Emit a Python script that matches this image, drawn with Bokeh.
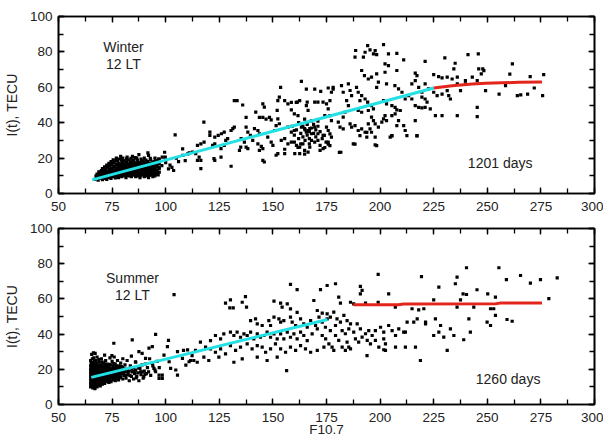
from bokeh.plotting import figure
from bokeh.models import Range1d, SingleIntervalTicker, LinearAxis, Label
from bokeh.layouts import column
from bokeh.embed import file_html
from bokeh.resources import INLINE

FONT = "Liberation Sans"

# ---------------- data: (F10.7, I(t) TECU) ----------------
winter_cluster = [
    (67,8),(67.5,10),(68,9),(68,11),(68.5,7.5),(69,8.5),(69,10.5),(69.5,12),(70,9),(70,11),(70,13),(70.5,7.8),(70.5,14),
    (71,10),(71,12),(71.5,8.5),(71.5,15),(72,9.5),(72,11.5),(72,13.5),(72.5,8),(72.5,16),(73,10.5),(73,12.5),(73,14.5),
    (73.5,9),(73.5,17),(74,11),(74,13),(74,15.5),(74.5,8.5),(74.5,18),(75,10),(75,12),(75,14),(75,16.5),(75.5,9.5),(75.5,19),
    (76,11),(76,13),(76,15),(76,17.5),(76.5,8.8),(77,10),(77,12),(77,14),(77,16),(77,20),(77.5,18.5),(78,9),(78,11.5),
    (78,13.5),(78,15.5),(78,17),(78.5,10.5),(78.5,19.5),(79,12),(79,14),(79,16.5),(79,21),(79.5,9.5),(79.5,18),(80,11),
    (80,13),(80,15),(80,17.5),(80,20),(81,10),(81,12),(81,14),(81,16),(81,18.5),(81.5,9),(82,11),(82,13),(82,15),(82,17),
    (82,20.5),(82.5,19),(83,10),(83,12),(83,14.5),(83,16.5),(83.5,18),(84,9.5),(84,11.5),(84,13.5),(84,15.5),(84,17.5),
    (84.5,21),(85,10.5),(85,12.5),(85,14),(85,16),(85,19),(86,9.5),(86,11.5),(86,13.5),(86,15),(86,17),(86.5,20),(87,10),
    (87,12),(87,14),(87,16),(87,18),(87.5,22),(88,9),(88,11),(88,13),(88,15),(88,17.5),(88.5,19.5),(89,10.5),(89,12.5),
    (89,14.5),(89,16.5),(89.5,18.5),(90,9.5),(90,11.5),(90,13.5),(90,15.5),(90,20),(90.5,17),(91,10),(91,12),(91,14),
    (91,16),(91.5,18),(92,9),(92,11),(92,13),(92,15),(92,21.5),(92.5,17),(93,10.5),(93,12.5),(93,14),(93,19),(93.5,16),
    (94,9.5),(94,11.5),(94,13.5),(94,15.5),(94.5,18),(95,10),(95,12),(95,14),(95,16.5),(95,20),(95.5,11),(96,13),(96,15),
    (96,18.5),(96.5,10.5),(97,12),(97,14),(97,17),(97,19.5),(91.7,22.9),
]
winter_cluster_b = [
    (67.8,8.8),(68.3,10.2),(68.8,12.3),(69.3,9.7),(69.8,11.2),(70.3,10.1),(70.8,12.4),(71.3,11.1),(71.8,13.2),(72.3,10.4),
    (72.8,12.1),(72.8,14.8),(73.3,11.6),(73.8,13.7),(73.8,16),(74.3,10.2),(74.3,12.2),(74.8,14.4),(74.8,16.8),(75.3,11.1),
    (75.3,13.1),(75.8,15.2),(75.8,17.6),(76.3,10.1),(76.3,12.1),(76.8,14.1),(76.8,16.4),(76.8,18.9),(77.3,11.1),(77.3,13.2),
    (77.8,15.1),(77.8,17.2),(78.3,10.1),(78.3,12.4),(78.8,14.6),(78.8,16.2),(79.3,11.1),(79.3,13.2),(79.3,19.2),(79.8,15.7),
    (79.8,10.3),(80.3,12.1),(80.3,14.2),(80.3,16.3),(80.8,18.3),(81.3,11.2),(81.3,13.1),(81.3,15.2),(81.8,17.4),(81.8,19.6),
    (82.3,10.2),(82.3,12.1),(82.3,14.3),(82.8,16.2),(83.3,11.2),(83.3,13.3),(83.3,15.5),(83.8,17.2),(83.8,19.8),(84.3,10.4),
    (84.3,12.6),(84.8,14.5),(84.8,16.6),(85.3,11.4),(85.3,13.2),(85.3,17.8),(85.8,15.3),(85.8,20.3),(86.3,10.3),(86.3,12.6),
    (86.8,14.4),(86.8,16.3),(86.8,18.8),(87.3,11.2),(87.3,13.1),(87.8,15.2),(87.8,17),(88.3,10.1),(88.3,12.2),(88.3,14.1),
    (88.8,16.2),(88.8,18.3),(89.3,11.4),(89.3,13.6),(89.8,15.4),(89.8,17.4),(90.3,10.4),(90.3,12.6),(90.3,14.4),(90.8,16.3),
    (90.8,18.8),(91.3,11.2),(91.3,13.2),(91.8,15.1),(91.8,17),(92.3,10.2),(92.3,12.1),(92.3,14.1),(92.8,16),(92.8,19.8),
    (93.3,11.3),(93.3,13.2),(93.8,15),(93.8,17.3),(94.3,10.4),(94.3,12.6),(94.8,14.6),(94.8,16.4),(95.3,13.1),(95.3,18.5),
    (95.8,15.2),(96.3,12),(96.3,16.8),(96.8,14.9),
]
winter_mid = [
    (96.7,19.5),(98.2,15.8),(98.4,20.5),(99.5,23.3),(99.8,20.5),(101.3,13.9),(102.9,14.8),(103.7,13),(102,16),(104.4,33.1),
    (106,18),(107.9,25.2),(108,21.5),(109.1,18.6),(110.3,22.4),(111,23),(100,17.5),(105,20),
    (117.8,40.3),(132,52.5),(133.3,52.5),(163.3,63.4),(153.6,60),(165.6,59),(169.5,59),(153,54.4),(152.3,52.5),
    (161.4,51.6),(166,51.6),(169.5,51.6),(171,51.6),(173.4,51.6),(135.9,50),(145.3,50.6),(146,48.75),(142,46),(152,47),
    (158.6,47.3),(165.6,49.7),(166.4,47),(137.5,43),(143.7,43),(145.3,43),(146.8,42),(148.4,43),(149.2,41.6),(152.3,42.2),
    (153,39.4),(160,45),(161.7,44),(164.8,42),(168,41),(171,40.9),(130.5,35.6),(131.3,36.6),(132,37.5),(137.5,37.5),
    (138.3,34.7),(139.5,32.8),(141.4,36.6),(143,35.6),(143.7,33.75),(150.8,35.6),(151.5,38.4),(157,37.5),(158.6,34.7),
    (160,35.6),(163.3,37.5),(164.8,36.6),(165.6,34.7),(166.4,35.6),(167.2,36.6),(168,33.75),(169.5,37.5),(171,33.75),
    (173.4,32.8),(120.6,34.7),(120.6,32.8),(122.9,31.9),(124.5,32.8),(126,33.75),(127.3,34.7),(128,30),(128.9,31),
    (121.9,27.2),(122.9,28),(114.8,27.2),(116.4,28),(117.9,29),(135.2,31),(136.7,29),(137.5,26.25),(140.6,30),(143,28),
    (144.6,26.6),(147.6,31.9),(149.2,29),(150,27.2),(153.9,30),(155.5,31),(157,28),(158.6,29),(161,27.2),(162.5,26.25),
    (164,28),(167.2,26.25),(169.5,29),(172,27.2),(174,32.8),(174.8,29),(135,26.25),(134.4,24.4),(112.5,23.4),(114,22.5),
    (115.6,20.6),(114.8,18.75),(116.4,18.75),(122.5,19.7),(122.9,18.75),(116.4,14),(125.8,20.6),(130.5,15.4),(138.3,25.3),
    (143.7,24.4),(145.3,25.3),(151.5,21.6),(152.3,22.5),(145.3,18.75),(146,17.8),(155.5,22.5),(160.2,22.5),(162.5,22.5),
    (164.8,24.4),(166.4,23.4),(172,24.4),(173.4,25.3),(127.3,27.2),(125.8,25.3),
    (159,38),(160,33),(161,36),(162,31),(162,40),(163,34),(164,32),(164,38),(165,30),(165,36),(166,33),(166,39),(167,31),
    (167,35),(168,37),(168,30),(169,34),(169,39),(170,32),(170,36),(171,30),(171,38),(172,35),(173,31),(160,29),(163,28),
    (167,28),(155.5,52.5),(157,50.6),(158.6,51.5),(160.9,51.5),(162.5,52.5),(175,50.6),(172.3,57.7),(175.8,59.6),(178.1,59),
    (155.5,25),(161.7,26),(164.8,22.3),(175.8,27.9),(174.2,26),(181,23.2),(188.3,27.9),(197.7,27.5),(205.5,32.6),
    (217.2,32.6),(193.8,34.5),
]
winter_high = [
    (194.2,83.6),(195.3,81.1),(196.9,78.9),(198.4,78.5),(197.7,80.7),(201.6,84.1),(193,79.8),(192.2,77),(188.6,80.8),
    (188.3,77),(203.9,78.9),(207.8,79.2),(202.3,73.2),(203.9,72.3),(211,75.5),(207.8,69.5),(221,74.7),(216.4,68),
    (217.2,66.6),(191.4,69.5),(192.7,66.6),(194.5,64.7),(196,65.7),(198.4,67.6),(199.2,62.9),(198.4,60),(202.3,68.5),
    (203,61.9),(206.9,61),(208.6,59.1),(210.2,57.2),(178.1,60),(177.3,57.2),(176.6,52.5),(182,61),(182.8,57.2),(185.2,61.9),
    (186,58.2),(186.7,55.3),(189,60),(189.8,57.2),(190.6,52.5),(191.4,55.3),(193,53.4),(194.2,51.6),(184.4,52.5),
    (185.2,49.7),(196,49.7),(196.9,47.8),(201.6,52.5),(203,50.6),(205.5,49.7),(207,48.7),(207.8,47.2),(211.7,53.4),
    (213.3,55.3),(214.8,61.9),(216.4,63.8),(218,60),(219.5,57.2),(221,61.9),(222.6,59.1),(219.5,54.4),(221,53.4),
    (221.9,51.6),(216.4,49.7),(218,48.7),(219.5,48.4),(221,48.7),(223.4,47.8),(214.8,53.4),(175.8,47.8),(176.6,44),
    (177.3,41.2),(175,37.5),(175.8,35.6),(176.6,33.7),(177.3,31.8),(180.5,40.3),(181.3,37.5),(182.8,36.5),(175.8,29),
    (176.6,27.1),(181.7,23.3),(186,39.3),(186.7,37.5),(188.3,38.4),(189.8,35.6),(190.6,32.7),(191.4,36.5),(187.5,28),
    (194.5,46.9),(196,43.1),(196.9,41.2),(194.5,39.3),(195.3,36.5),(196,34.6),(197.7,39.3),(199.2,37.5),(200.8,40.3),
    (197.7,31.8),(198.4,27.1),(201.6,42.2),(202.3,44),(203,41.2),(204.7,31.8),(205.5,32.7),(193,34.6),(193.8,31.8),
    (205.5,44),(207,45),(209.4,46.9),(207.8,38.4),(208.6,41.2),(211,38.4),(211.7,35.6),(212.5,32.7),(216.4,41.2),
    (217.2,32.7),(189.8,46.9),(191.4,45.9),(182.8,43.1),(183.6,45.9),(174.2,44),
    (230.2,76.6),(235,73.6),(241,78.5),(245.8,78.9),(225,67.2),(227.3,66),(228.9,65.3),(231.3,65.7),(233.6,64.7),
    (236,65.7),(225,57.2),(226.6,55.3),(228.9,56.2),(231.3,58.1),(232,55.3),(232.8,53.4),(225.8,44),(228.9,44),(236,44),
    (237.5,58.1),(239.8,63.8),(243,65.7),(245.3,63.8),(248.4,69.4),(245.3,48.7),(245.3,43.4),(249.2,58.1),(255.5,56.2),
    (261.7,73.2),(260.5,67.5),(264,55.3),(265.6,55.7),(268.8,56.2),(270,66),(276.3,67.2),(271.9,59.6),(275.8,55.3),
    (234.4,70.4),(236,61.9),(246,70.4),(247.9,70.4),(247.2,67.6),(239.8,61.9),(258.5,61),
]
winter_fit_cyan_x = [65.7, 225]
winter_fit_cyan_y = [7.7, 59.6]
winter_fit_red_x = [225, 233.6, 243, 249.2, 264.8, 275.5]
winter_fit_red_y = [59.6, 60.9, 61.9, 62.3, 62.8, 63.0]

summer_cluster = [
    (65,10),(65,12),(65,14),(65,16),(65,18),(65,20),(65,22),(65,25),(65.5,11),(65.5,13),(65.5,15),(65.5,17),(65.5,19),
    (65.5,21),(65.5,23),(65.5,28.5),(66,9.5),(66,12.5),(66,14.5),(66,16.5),(66,18.5),(66,20.5),(66,24),(66.5,10.5),
    (66.5,13.5),(66.5,15.5),(66.5,17.5),(66.5,19.5),(66.5,22),(66.5,26.5),(67,9),(67,11.5),(67,14),(67,16),(67,18),(67,20),
    (67,23),(67.5,12.5),(67.5,15),(67.5,17),(67.5,19),(67.5,21.5),(67.5,25),(68,10),(68,13),(68,15.5),(68,18),(68,20.5),
    (68,27),(68.5,11),(68.5,14),(68.5,16.5),(68.5,19),(68.5,22),(69,12),(69,15),(69,17.5),(69,20),(69,24),(69.5,10.5),
    (69.5,13.5),(69.5,16),(69.5,18.5),(69.5,21),(70,12.5),(70,15),(70,17),(70,19.5),(70,22.5),(70,26),(70.5,11.5),(70.5,14),
    (70.5,18),(70.5,20.5),(71,13),(71,15.5),(71,17.5),(71,19.5),(71,23.5),(71.5,12),(71.5,16.5),(71.5,21),(71.5,28),(72,14),
    (72,18),(72,20),(72,25),(72.5,13),(72.5,16),(72.5,22),(73,15),(73,17.5),(73,19.5),(73,23),(73.5,12.5),(73.5,16.5),
    (73.5,21),(74,14.5),(74,18.5),(74,20.5),(74,26.5),(74.5,13),(74.5,17),(74.5,22.5),(75,15.5),(75,19),(75,24.5),(75.5,14),
    (75.5,17.5),(75.5,21.5),(76,16),(76,20),(76,27),(76.5,13.5),(76.5,18.5),(76.5,23),(77,15),(77,17),(77,21),(77.5,19.5),
    (77.5,25),(78,14),(78,16.5),(78,22),(78.5,18),(78.5,20.5),(79,15.5),(79,23.5),(79.5,17.5),(79.5,19.5),(80,14.5),(80,21),
    (80,26),(80.5,16.5),(81,18.5),(81,22.5),(81.5,15),(82,20),(82,25),(82.5,17),(83,13.5),(83,19),(83.5,22),(84,16),
    (84,27.5),(84.5,18.5),(85,14.5),(85,21),(85.5,17.5),(86,19.5),(86,24),(86.5,16),(87,18),(87.5,13.5),(88,20.5),(88.5,17),
    (89,22.5),(89.5,15),(90,19),(90.5,23),(91,17.5),(91.5,21),(92,18.5),(92.5,26),(93,16.5),(94,22),(95,19.5),(96,24.5),
    (97,21),(66.3,29.3),(67.1,29),(74.9,27.8),
]
summer_cluster_b = [
    (65.2,11.2),(65.2,13.3),(65.2,15.3),(65.2,17.4),(65.2,19.4),(65.2,21.3),(65.2,23.6),(65.8,10.3),(65.8,12.2),(65.8,14.2),
    (65.8,16.2),(65.8,18.1),(65.8,20.2),(65.8,22.4),(65.8,26),(66.3,11.4),(66.3,13.1),(66.3,15.2),(66.3,17.2),(66.3,19.1),
    (66.3,21.3),(66.3,23.2),(66.8,10.1),(66.8,12.3),(66.8,14.6),(66.8,16.6),(66.8,18.8),(66.8,20.8),(66.8,24.7),(67.3,11.1),
    (67.3,13.2),(67.3,15.4),(67.3,17.6),(67.3,19.8),(67.3,21.8),(67.8,10.7),(67.8,14.1),(67.8,16.2),(67.8,18.4),(67.8,20.3),
    (67.8,23.3),(68.3,12.1),(68.3,14.6),(68.3,17.1),(68.3,19.7),(68.3,21.4),(68.8,13.1),(68.8,15.5),(68.8,17.9),(68.8,20.5),
    (68.8,25.5),(69.3,11.3),(69.3,14.1),(69.3,16.6),(69.3,19.2),(69.3,22.4),(69.8,12.8),(69.8,15.3),(69.8,17.8),(69.8,20.3),
    (70.3,13.4),(70.3,16.1),(70.3,18.8),(70.3,21.5),(70.3,24.2),(70.8,12.5),(70.8,15.1),(70.8,16.8),(70.8,19.4),(71.3,14.1),
    (71.3,16.4),(71.3,18.6),(71.3,21.8),(71.8,13.2),(71.8,15.2),(71.8,19.2),(71.8,23.1),(72.3,15.1),(72.3,17.2),(72.3,19.1),
    (72.3,21.2),(72.8,14.2),(72.8,18.3),(72.8,20.6),(73.3,13.8),(73.3,16.2),(73.3,18.6),(73.8,15.3),(73.8,19.6),(73.8,22.6),
    (74.3,16.1),(74.3,17.8),(74.8,15.1),(74.8,19.8),(75.3,16.7),(75.3,20.6),(75.8,18.9),(75.8,23.2),(76.3,14.8),(76.3,17.2),
    (76.8,19.9),(76.8,21.6),(77.3,16.1),(77.8,17.8),(77.8,21.1),(78.3,15.1),(78.3,19.3),(78.8,16.8),(79.3,18.1),(79.3,21.6),
    (80.3,18.2),(80.8,20.1),(81.3,16.6),(82.3,18.6),(83.3,16.6),(84.3,20.1),(85.3,18.9),(86.3,15.1),(87.3,20.8),(88.3,18.6),
    (90.3,17.1),
]
summer_mid = [
    (103.9,62.4),(95.3,39.9),(75.8,34.8),(84.4,36.7),(87.5,30),(92.2,32),(93.75,32.9),(100.8,32.9),(99.2,28.1),(105.5,30),
    (110.2,31),(107.8,26.2),(109.4,22.4),(110.9,24.3),(104.7,19.6),(105.5,16.7),(101.6,24.3),(102.3,20.5),(96.9,16.7),
    (98.4,16.7),(96.9,14.8),(98.4,14.8),(93.75,23.4),(94.5,20.5),(95.3,18.6),(89,29),(90.6,26.2),(85.9,24.3),(87.5,21.5),
    (89,18.6),(89.8,15.8),(101.3,36.4),(108.3,30.7),
    (158.2,68.2),(161.3,65.3),(172.2,65.3),(175.3,67.6),(127.9,57.6),(130.2,59.5),(129.9,54.9),(131.5,54.9),(135.7,58.1),
    (137.2,61.3),(137.7,55.3),(150.5,58.7),(153.6,57.6),(154.3,55.3),(156.7,57.2),(158.2,54.3),(161.3,52.4),(169.1,59.1),
    (170.7,53.4),(173,51.9),(139.6,47.7),(141.9,48.7),(142.7,45.8),(145,44.9),(148.1,47.7),(148.9,44.9),(150.5,49.6),
    (152.8,48.7),(153.6,46.8),(155.1,47.7),(158.2,49.6),(159,46.8),(160.6,44.9),(162.9,48.7),(164.4,45.8),(166,43.9),
    (167.6,47.7),(169.9,44.9),(171.5,49.6),(173,46.8),(175.3,48.7),(127.1,40.1),(130.2,41.1),(131.8,39.2),(133.3,41.1),
    (134.9,38.2),(136.5,40.1),(138,39.2),(139.6,41.1),(141.1,37.3),(142.7,40.1),(144.2,38.2),(145.8,39.2),(147.3,41.1),
    (148.9,38.2),(150.5,40.1),(152,37.3),(153.6,40.1),(155.1,37.3),(156.7,41.1),(158.2,38.2),(159.8,40.1),(161.3,37.3),
    (162.9,41.1),(164.4,39.2),(166,36.3),(168.3,40.1),(170.7,43),(173,39.2),(174.6,37.3),(120.9,36.3),(123.2,39.2),
    (125.6,37.3),(116.2,35.4),(118.6,32.6),(120.9,31.6),(113.9,30.7),(112.3,27.8),(111.6,25),(123.2,29.7),(125.6,31.6),
    (127.9,28.8),(130.2,33.5),(132.6,30.7),(134.9,32.6),(138,34.4),(140.3,31.6),(142.7,33.5),(145,32.6),(146.6,29.7),
    (148.9,31.6),(151.2,34.4),(153.6,31.6),(155.9,29.7),(158.2,32.6),(160.6,30.7),(162.9,33.5),(165.2,31.6),(167.6,29.7),
    (170.7,30.7),(173.8,32.6),(117.8,26.9),(120.1,25),(124.8,26.9),(131.8,24),(135.7,25.9),(142.7,26.9),(147.3,25),
    (152,26.9),(113.1,25),(114.7,24),(156.4,19.3),
]
summer_high = [
    (199.1,73.9),(219.3,72.7),(190.8,67.1),(191.6,64.8),(190.8,62.9),(204,62.9),(227.4,66.7),(179.2,68.6),(180.7,61),
    (181.5,57.6),(186.2,58.1),(187.7,57.2),(193.2,57.6),(199.1,58.1),(207.1,55.3),(225,59.5),(214.9,54.4),(218,53.8),
    (220.4,54.4),(175.3,51.5),(176.8,49.6),(178.4,52.5),(179.9,48.7),(181.5,46.8),(183.1,50.6),(184.6,47.7),(186.2,45.8),
    (174.5,43.9),(176.8,42),(179.2,44.9),(182.3,42),(183.8,40.2),(185.4,43),(187.7,41.1),(189.3,45.8),(190.8,43),
    (193.2,40.2),(194.7,42),(196.3,39.2),(197.8,42),(200.2,43.9),(201.7,41.1),(204,44.9),(205.6,42),(207.2,39.2),
    (208.7,43),(211,41.1),(212.6,46.8),(188.5,37.3),(190,35.4),(191.6,38.3),(194,36.4),(195.5,34.5),(197.8,36.4),
    (199.4,32.6),(201.7,37.3),(202.5,34.5),(179.2,39.2),(180.7,36.4),(182.3,32.6),(184.6,35.4),(186.2,31.6),(176.1,34.5),
    (177.6,32.6),(178.4,30.7),(183.8,30.7),(185.4,32.6),(193.9,27.8),(201.7,31.1),(202.5,30.7),(207.2,32.6),(211.8,41.1),
    (215.7,46.8),(217.3,48.7),(221.2,46.8),(225.8,48.7),(228.2,44.9),(227.4,41.1),(229.7,38.3),(211.8,32.6),(216.5,32.6),
    (218.8,25),(221.2,45.8),(225,39.2),(231.3,30.7),
    (240.3,77.7),(255.4,77.7),(235.9,72.4),(258.9,70.9),(265.5,73.3),(270.1,69),(274.8,70.9),(282.6,72),(235.1,68.6),
    (238.7,62.9),(240.3,62.5),(245.2,65.2),(250.2,62.9),(253.8,61),(278.7,60.1),(237.5,59.5),(243.7,55.3),(235.9,55.3),
    (251.5,54.4),(253,54.4),(253.8,50.6),(249.9,46.8),(251.5,44.9),(259.2,48.3),(261.6,47.3),(241.4,48.7),(232.8,43),
    (242.1,41.1),(239,36.8),(234.4,39.2),
]
summer_fit_cyan_x = [65.3, 175.5]
summer_fit_cyan_y = [15.4, 48.3]
summer_fit_red_x = [187.5, 208.5, 211, 254, 256, 275.5]
summer_fit_red_y = [56.7, 56.7, 57.1, 57.2, 57.6, 57.6]

x_interval, y_interval = 25, 20


def style_axis(ax, show_labels, standoff):
    ax.axis_line_width = 1.6
    ax.axis_line_color = "black"
    ax.major_tick_in = 6
    ax.major_tick_out = 0
    ax.minor_tick_in = 5
    ax.minor_tick_out = 0
    ax.major_tick_line_width = 1.3
    ax.minor_tick_line_width = 1.3
    ax.major_tick_line_color = "black"
    ax.minor_tick_line_color = "black"
    ax.major_label_text_font = FONT
    ax.major_label_text_color = "#222222"
    ax.major_label_standoff = standoff
    if show_labels:
        ax.major_label_text_font_size = "13.5px"
    else:
        ax.major_label_text_font_size = "1px"
        ax.major_label_text_alpha = 0


def panel(points, cx, cy, rx, ry, season, days, season_xy, days_xy, frame_h, top, bottom, xlabel=None):
    p = figure(frame_width=536, frame_height=frame_h, x_range=Range1d(50, 300), y_range=Range1d(0, 100),
               output_backend="svg", toolbar_location=None,
               min_border_left=55, min_border_right=9, min_border_top=top, min_border_bottom=bottom,
               background_fill_color="white", border_fill_color="white")
    p.grid.visible = False
    p.outline_line_color = "black"
    p.outline_line_width = 1.6
    bottom_ax = p.below[0]
    left_ax = p.left[0]
    bottom_ax.ticker = SingleIntervalTicker(interval=x_interval, num_minor_ticks=2)
    left_ax.ticker = SingleIntervalTicker(interval=y_interval, num_minor_ticks=2)
    style_axis(bottom_ax, True, 8)
    style_axis(left_ax, True, 6)
    top_ax = LinearAxis(ticker=SingleIntervalTicker(interval=x_interval, num_minor_ticks=2))
    right_ax = LinearAxis(ticker=SingleIntervalTicker(interval=y_interval, num_minor_ticks=2))
    style_axis(top_ax, False, 0)
    style_axis(right_ax, False, 0)
    p.add_layout(top_ax, "above")
    p.add_layout(right_ax, "right")
    left_ax.axis_label = "I(t), TECU"
    left_ax.axis_label_text_font = FONT
    left_ax.axis_label_text_font_style = "normal"
    left_ax.axis_label_text_font_size = "14px"
    left_ax.axis_label_text_color = "#222222"
    left_ax.axis_label_standoff = 7
    if xlabel:
        bottom_ax.axis_label = xlabel
        bottom_ax.axis_label_text_font = FONT
        bottom_ax.axis_label_text_font_style = "normal"
        bottom_ax.axis_label_text_font_size = "13.5px"
        bottom_ax.axis_label_text_color = "#222222"
        bottom_ax.axis_label_standoff = -3

    xs = [pt[0] for pt in points]
    ys = [pt[1] for pt in points]
    p.scatter(xs, ys, marker="square", size=3.2, color="black", line_width=0)
    p.line(cx, cy, line_color="#22e0e4", line_width=3)
    p.line(rx, ry, line_color="#e3261c", line_width=3)

    for i, t in enumerate(season):
        p.add_layout(Label(x=season_xy[0], y=season_xy[1] - i * 9.6, text=t, text_align="center",
                           text_baseline="middle", text_font=FONT, text_font_size="14px",
                           text_color="#222222"))
    p.add_layout(Label(x=days_xy[0], y=days_xy[1], text=days, text_align="center", text_baseline="middle",
                       text_font=FONT, text_font_size="14px", text_color="#222222"))
    return p


p1 = panel(winter_cluster + winter_cluster_b + winter_mid + winter_high, winter_fit_cyan_x, winter_fit_cyan_y,
           winter_fit_red_x, winter_fit_red_y, ["Winter", "12 LT"], "1201 days",
           (80.3, 83), (256, 17.5), 177, 16, 25)
p2 = panel(summer_cluster + summer_cluster_b + summer_mid + summer_high, summer_fit_cyan_x, summer_fit_cyan_y,
           summer_fit_red_x, summer_fit_red_y, ["Summer", "12 LT"], "1260 days",
           (84.5, 71.6), (259.7, 14.6), 176, 10, 34, xlabel="F10.7")

layout = column(p1, p2, spacing=0)
open("out.html", "w").write(file_html(layout, INLINE))
